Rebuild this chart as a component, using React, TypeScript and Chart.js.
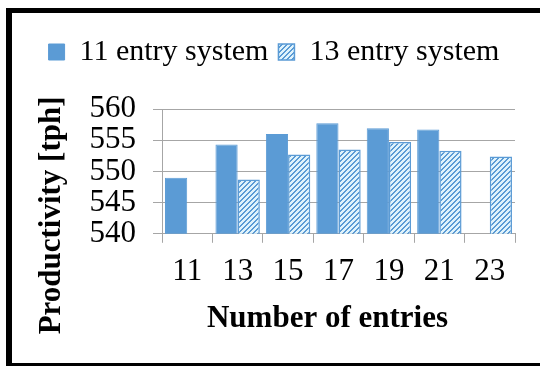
import React, { useEffect, useRef } from 'react';
import { Chart, registerables } from 'chart.js';

Chart.register(...registerables);

const categories = ['11', '13', '15', '17', '19', '21', '23'];
const series11 = [549.0, 554.3, 556.0, 557.7, 556.9, 556.7, null];
const series13 = [null, 548.7, 552.7, 553.5, 554.7, 553.3, 552.4];
const seriesNames = ['11 entry system', '13 entry system'];
const yMin = 540;
const yMax = 560;
const yStep = 5;
const xTitle = 'Number of entries';
const yTitle = 'Productivity [tph]';

const FAMILY = '"Liberation Serif", "Times New Roman", Times, serif';
const BLUE = '#5b9bd5';
const GRID = '#a6a6a6';

function makeHatch(): CanvasPattern | string {
  const N = 5;
  const c = document.createElement('canvas');
  c.width = N;
  c.height = N;
  const g = c.getContext('2d');
  if (!g) return BLUE;
  const img = g.createImageData(N, N);
  const on = [0x5b, 0x9b, 0xd5];
  const off = [0xdf, 0xf3, 0xfc];
  for (let y = 0; y < N; y++) {
    for (let x = 0; x < N; x++) {
      const col = (x + y) % N < 2 ? on : off;
      const i = (y * N + x) * 4;
      img.data[i] = col[0];
      img.data[i + 1] = col[1];
      img.data[i + 2] = col[2];
      img.data[i + 3] = 255;
    }
  }
  g.putImageData(img, 0, 0);
  const p = g.createPattern(c, 'repeat');
  return p || BLUE;
}

const legendSpacer = {
  id: 'legendSpacer',
  beforeInit(chart: any) {
    const legend = chart.legend;
    if (!legend) return;
    const fit = legend.fit;
    legend.fit = function () {
      fit.call(this);
      this.height += 32;
    };
  },
};

const axisTitles = {
  id: 'axisTitles',
  afterDraw(chart: any) {
    const { ctx, chartArea } = chart;
    ctx.save();
    ctx.fillStyle = '#000';
    ctx.font = `bold 31px ${FAMILY}`;
    ctx.textAlign = 'center';
    ctx.textBaseline = 'alphabetic';
    const cx = (chartArea.left + chartArea.right) / 2 - 11;
    ctx.fillText(xTitle, cx, chartArea.bottom + 93);
    ctx.translate(60, (chartArea.top + chartArea.bottom) / 2 + 44);
    ctx.rotate(-Math.PI / 2);
    ctx.fillText(yTitle, 0, 0);
    ctx.restore();
  },
};

export default function App() {
  const ref = useRef<HTMLCanvasElement | null>(null);

  useEffect(() => {
    if (!ref.current) return;
    const hatch = makeHatch();
    const chart = new Chart(ref.current, {
      type: 'bar',
      data: {
        labels: categories,
        datasets: [
          {
            label: seriesNames[0],
            data: series11,
            backgroundColor: BLUE,
            borderColor: BLUE,
            borderWidth: 1,
            categoryPercentage: 0.88,
            barPercentage: 1.0,
          },
          {
            label: seriesNames[1],
            data: series13,
            backgroundColor: hatch as any,
            borderColor: BLUE,
            borderWidth: 1.5,
            categoryPercentage: 0.88,
            barPercentage: 1.0,
          },
        ],
      },
      options: {
        responsive: false,
        animation: false,
        devicePixelRatio: 1,
        layout: { padding: { top: 27, left: 33, right: 25, bottom: 67 } },
        plugins: {
          tooltip: { enabled: false },
          legend: {
            position: 'top',
            labels: {
              boxWidth: 16,
              boxHeight: 16,
              padding: 10,
              color: '#000',
              font: { family: FAMILY, size: 30 },
            },
          },
        },
        scales: {
          x: {
            grid: {
              offset: true,
              drawOnChartArea: false,
              drawTicks: true,
              tickLength: 9,
              color: GRID,
              lineWidth: 1,
            },
            border: { display: true, color: GRID, width: 1 },
            ticks: {
              color: '#000',
              padding: 10,
              font: { family: FAMILY, size: 31 },
              maxRotation: 0,
              autoSkip: false,
            },
          },
          y: {
            min: yMin,
            max: yMax,
            afterFit: (scale: any) => {
              scale.width = 129;
            },
            grid: {
              color: GRID,
              lineWidth: 1,
              drawTicks: true,
              tickLength: 9,
            },
            border: { display: true, color: GRID, width: 1 },
            ticks: {
              stepSize: yStep,
              autoSkip: false,
              color: '#000',
              padding: 17,
              font: { family: FAMILY, size: 31 },
            },
          },
        },
      },
      plugins: [legendSpacer, axisTitles],
    });
    return () => chart.destroy();
  }, []);

  return (
    <div style={{ position: 'absolute', left: 0, top: 0, width: 540, height: 367, background: '#fff' }}>
      <canvas ref={ref} width={540} height={367} style={{ position: 'absolute', left: 0, top: 0 }} />
      <div
        style={{
          position: 'absolute',
          left: 6,
          top: 8,
          width: 540,
          height: 358,
          boxSizing: 'border-box',
          borderLeft: '6px solid #000',
          borderTop: '5px solid #000',
          borderBottom: '3px solid #000',
          pointerEvents: 'none',
        }}
      />
    </div>
  );
}
